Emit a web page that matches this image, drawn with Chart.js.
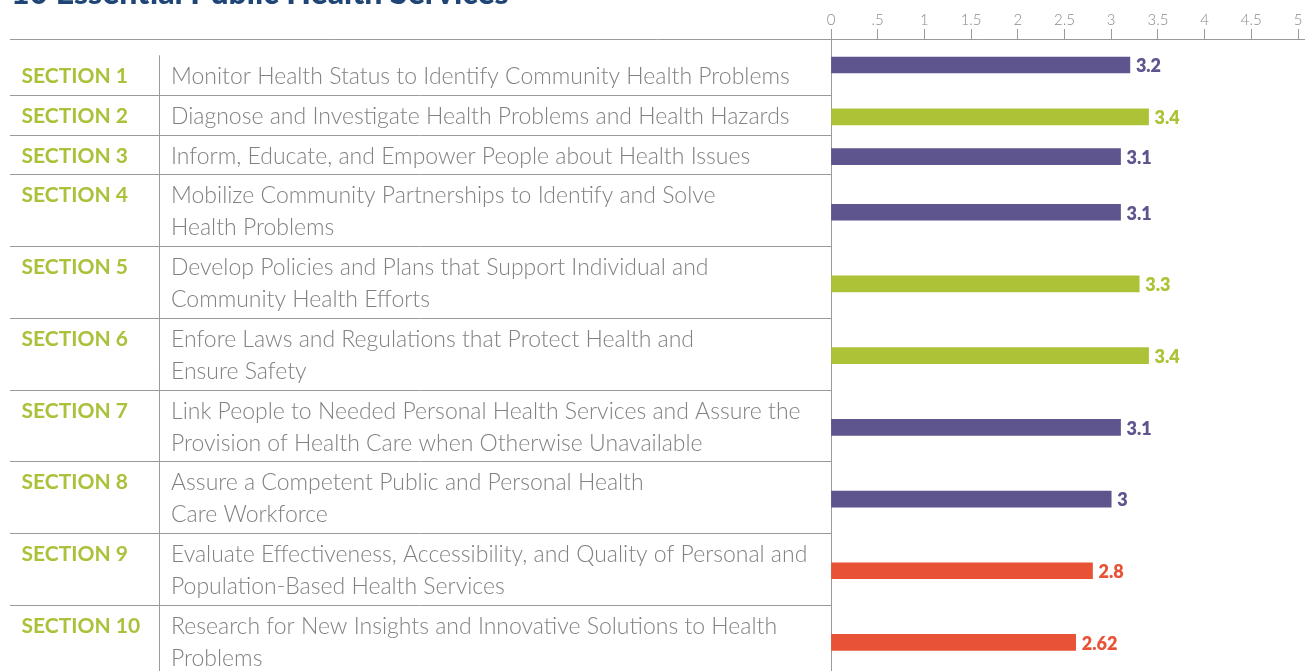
<!DOCTYPE html>
<html>
<head>
<meta charset="utf-8">
<title>10 Essential Public Health Services</title>
<script src="https://cdn.jsdelivr.net/npm/chart.js@4.4.1/dist/chart.umd.min.js"></script>
<style>
  html, body { margin: 0; padding: 0; background: #ffffff; overflow: hidden; }
  canvas { display: block; }
</style>
</head>
<body>
<canvas id="chart" width="1305" height="671"></canvas>
<script>
// ---- data ----
const chartTitle = '10 Essential Public Health Services';
const sections = ['SECTION 1', 'SECTION 2', 'SECTION 3', 'SECTION 4', 'SECTION 5',
                  'SECTION 6', 'SECTION 7', 'SECTION 8', 'SECTION 9', 'SECTION 10'];
const descriptions = [
  ['Monitor Health Status to Identify Community Health Problems'],
  ['Diagnose and Investigate Health Problems and Health Hazards'],
  ['Inform, Educate, and Empower People about Health Issues'],
  ['Mobilize Community Partnerships to Identify and Solve', 'Health Problems'],
  ['Develop Policies and Plans that Support Individual and', 'Community Health Efforts'],
  ['Enfore Laws and Regulations that Protect Health and', 'Ensure Safety'],
  ['Link People to Needed Personal Health Services and Assure the', 'Provision of Health Care when Otherwise Unavailable'],
  ['Assure a Competent Public and Personal Health', 'Care Workforce'],
  ['Evaluate Effectiveness, Accessibility, and Quality of Personal and', 'Population-Based Health Services'],
  ['Research for New Insights and Innovative Solutions to Health', 'Problems']
];
const scores = [3.2, 3.4, 3.1, 3.1, 3.3, 3.4, 3.1, 3, 2.8, 2.62];
const tickLabels = ['0', '.5', '1', '1.5', '2', '2.5', '3', '3.5', '4', '4.5', '5'];

// ---- styling ----
const PURPLE = '#5e548e';
const GREEN = '#adc236';
const RED = '#e85337';
const RULE = '#9a9a9a';
const TEXT_GRAY = '#818181';
const FONT = 'Lato, "Open Sans", sans-serif';

// score tiers decide the bar colour
function tierColor(v) {
  if (v >= 3.3) return GREEN;
  if (v >= 3.0) return PURPLE;
  return RED;
}

// table geometry (in pixels below the top rule)
const LINE_H = 32;      // description line height
const ROW_PAD = 7.7;    // vertical padding per row
const HEAD_PAD = 16.3;  // extra space above the first row
const TABLE_LEFT = 10;
const DIVIDER_X = 159;
const SECTION_X = 21.5;
const DESC_X = 171;
const VISIBLE_H = 632;

const rowTops = [];
const rowHeights = [];
{
  let y = 0;
  descriptions.forEach((lines, i) => {
    const h = ROW_PAD + lines.length * LINE_H + (i === 0 ? HEAD_PAD : 0);
    rowTops.push(y);
    rowHeights.push(h);
    y += h;
  });
}
// bars sit on the middle of their table row
const rowCenters = rowTops.map((t, i) => t + rowHeights[i] / 2 + (i === 0 ? -2 : 2));

const tablePlugin = {
  id: 'scoreTable',
  beforeDatasetsDraw(chart) {
    const { ctx, chartArea, scales } = chart;
    const ys = scales.y;
    const top = ys.getPixelForValue(0);
    ctx.save();

    // title
    ctx.fillStyle = '#1f4576';
    ctx.font = `900 32px ${FONT}`;
    ctx.textAlign = 'left';
    ctx.textBaseline = 'alphabetic';
    ctx.fillText(chartTitle, 11, 4);

    // rules
    ctx.strokeStyle = RULE;
    ctx.lineWidth = 1;
    ctx.beginPath();
    ctx.moveTo(TABLE_LEFT, Math.round(top) + 0.5);
    ctx.lineTo(chart.width, Math.round(top) + 0.5);
    for (let i = 1; i < rowTops.length; i++) {
      const y = Math.round(ys.getPixelForValue(rowTops[i])) + 0.5;
      ctx.moveTo(TABLE_LEFT, y);
      ctx.lineTo(chartArea.left, y);
    }
    const divTop = ys.getPixelForValue(HEAD_PAD);
    ctx.moveTo(DIVIDER_X + 0.5, divTop);
    ctx.lineTo(DIVIDER_X + 0.5, chartArea.bottom);
    ctx.moveTo(Math.round(chartArea.left) + 0.5, top);
    ctx.lineTo(Math.round(chartArea.left) + 0.5, chartArea.bottom);
    ctx.stroke();

    // row text
    ctx.textBaseline = 'alphabetic';
    rowTops.forEach((t, i) => {
      const first = ys.getPixelForValue(t + (i === 0 ? HEAD_PAD : 0)) + 29;
      ctx.fillStyle = '#a9c23a';
      ctx.font = `700 21px ${FONT}`;
      ctx.fillText(sections[i], SECTION_X, first - 1);
      ctx.fillStyle = TEXT_GRAY;
      ctx.font = `300 23px ${FONT}`;
      descriptions[i].forEach((line, k) => {
        ctx.fillText(line, DESC_X, first + k * LINE_H);
      });
    });
    ctx.restore();
  },
  afterDatasetsDraw(chart) {
    const { ctx, scales } = chart;
    ctx.save();
    ctx.font = `800 18px ${FONT}`;
    ctx.textAlign = 'left';
    ctx.textBaseline = 'middle';
    scores.forEach((v, i) => {
      ctx.fillStyle = tierColor(v);
      ctx.fillText(String(v), scales.x.getPixelForValue(v) + 6,
                   scales.y.getPixelForValue(rowCenters[i]) + 1.5);
    });
    ctx.restore();
  }
};

function build() {
  new Chart(document.getElementById('chart'), {
    type: 'bar',
    data: {
      datasets: [{
        data: scores.map((v, i) => ({ x: v, y: rowCenters[i] })),
        backgroundColor: scores.map(tierColor),
        borderWidth: 0,
        barThickness: 16
      }]
    },
    options: {
      indexAxis: 'y',
      responsive: false,
      animation: false,
      layout: { padding: { left: 831, right: 7, top: 0, bottom: 0 } },
      plugins: { legend: { display: false }, tooltip: { enabled: false } },
      scales: {
        x: {
          type: 'linear',
          position: 'top',
          min: 0,
          max: 5,
          afterFit(scale) { scale.height = 39; },
          ticks: {
            stepSize: 0.5,
            autoSkip: false,
            maxRotation: 0,
            padding: 0,
            color: '#8a8a8a',
            font: { family: FONT, size: 15, weight: 300 },
            callback: (v) => tickLabels[Math.round(v * 2)]
          },
          grid: { drawOnChartArea: false, drawTicks: true, tickLength: 10, color: RULE },
          border: { display: false }
        },
        y: {
          type: 'linear',
          display: false,
          reverse: true,
          offset: false,
          min: 0,
          max: VISIBLE_H
        }
      }
    },
    plugins: [tablePlugin]
  });
}

const fontsWanted = [`300 23px Lato`, `700 21px Lato`, `900 32px Lato`, `300 15px Lato`, `800 18px Lato`];
if (document.fonts && document.fonts.load) {
  Promise.all(fontsWanted.map(f => document.fonts.load(f))).then(build, build);
} else {
  build();
}
</script>
</body>
</html>
